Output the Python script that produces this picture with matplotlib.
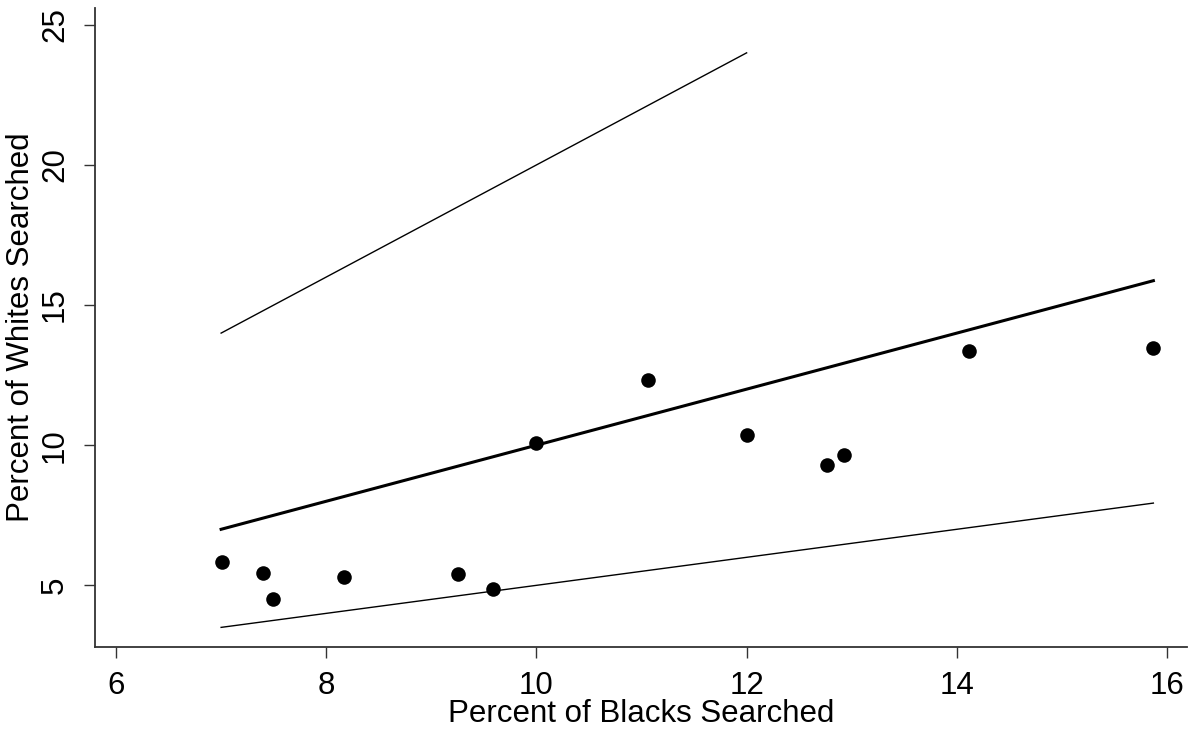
import matplotlib.pyplot as plt

# percent of blacks / whites searched
blacks = [7.01, 7.40, 7.49, 8.17, 9.25, 9.59, 10.00, 11.06, 12.00, 12.76, 12.93, 14.12, 15.87]
whites = [5.85, 5.44, 4.51, 5.28, 5.40, 4.87, 10.09, 12.31, 10.38, 9.29, 9.65, 13.35, 13.46]

# reference lines: y = 2x, y = x, y = x/2
upper_x = [7.0, 12.0]
upper_y = [14.0, 24.0]
equal_x = [7.0, 15.87]
equal_y = [7.0, 15.87]
lower_x = [7.0, 15.87]
lower_y = [3.5, 7.935]

x_ticks = [6, 8, 10, 12, 14, 16]
y_ticks = [5, 10, 15, 20, 25]

plt.rcParams['font.family'] = ['Liberation Sans', 'DejaVu Sans']

fig = plt.figure(figsize=(11.91, 7.33), dpi=100)
ax = fig.add_axes([95 / 1191, 86 / 733, 1092 / 1191, 639 / 733])

ax.plot(upper_x, upper_y, color='black', lw=1.0)
ax.plot(equal_x, equal_y, color='black', lw=2.2)
ax.plot(lower_x, lower_y, color='black', lw=1.0)
ax.scatter(blacks, whites, s=110, color='black', zorder=3, linewidths=0)

ax.set_xlim(5.80, 16.19)
ax.set_ylim(2.80, 25.6)
ax.set_xticks(x_ticks)
ax.set_yticks(y_ticks)

for side in ['top', 'right']:
    ax.spines[side].set_visible(False)
for side in ['left', 'bottom']:
    ax.spines[side].set_color('#333333')
    ax.spines[side].set_linewidth(1.3)

ax.tick_params(axis='both', direction='out', length=8, width=1.0, color='#333333',
               labelsize=22.5, pad=9)
ax.tick_params(axis='x', pad=9)
ax.tick_params(axis='y', labelrotation=90, pad=10)
for lab in ax.get_yticklabels():
    lab.set_va('center')

ax.set_xlabel('Percent of Blacks Searched', fontsize=22.5, labelpad=-1)
ax.set_ylabel('Percent of Whites Searched', fontsize=22.5, labelpad=3)

fig.savefig('out.png', dpi=100)
